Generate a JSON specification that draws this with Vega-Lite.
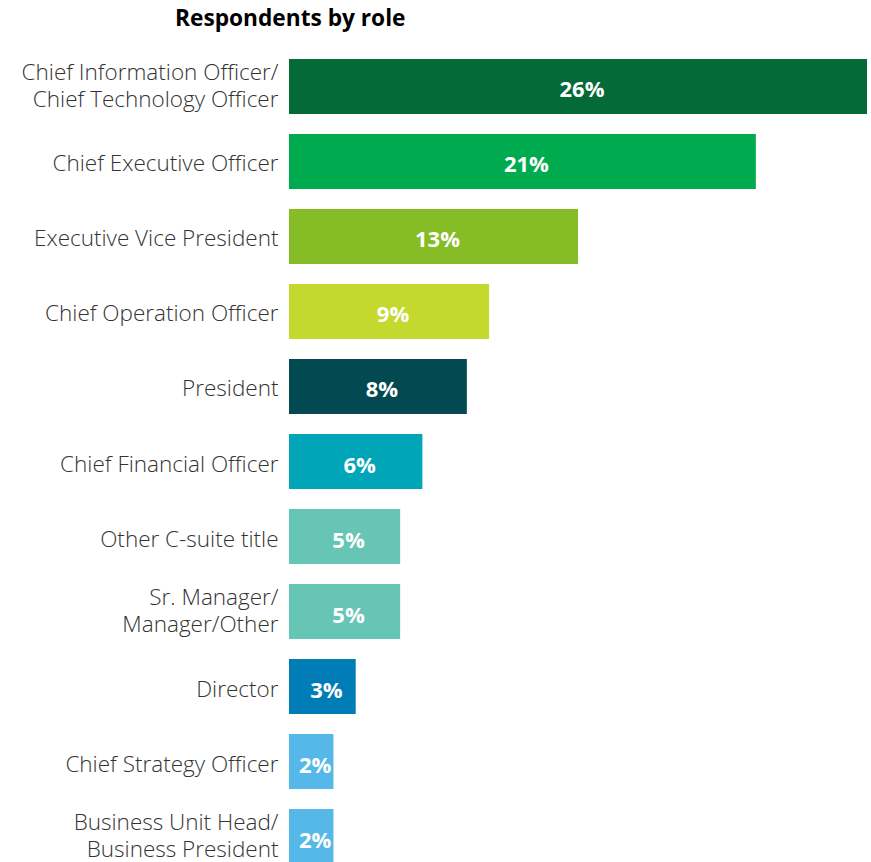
{
  "$schema": "https://vega.github.io/schema/vega-lite/v6.json",
  "autosize": "none",
  "width": 578,
  "height": 825,
  "padding": {"left": 289, "top": 49, "right": 4, "bottom": 0},
  "background": "white",
  "config": {"view": {"stroke": null}, "font": "Open Sans"},
  "title": {
    "text": "Respondents by role",
    "anchor": "start",
    "frame": "group",
    "dx": -114,
    "offset": 18,
    "fontSize": 22.7,
    "fontWeight": "bold",
    "font": "Open Sans",
    "color": "#000000"
  },
  "data": {
    "values": [
      {"role": "Chief Information Officer/|Chief Technology Officer", "value": 26, "color": "#046A38"},
      {"role": "Chief Executive Officer", "value": 21, "color": "#00AB4F"},
      {"role": "Executive Vice President", "value": 13, "color": "#86BC25"},
      {"role": "Chief Operation Officer", "value": 9, "color": "#C4D82E"},
      {"role": "President", "value": 8, "color": "#024952"},
      {"role": "Chief Financial Officer", "value": 6, "color": "#00A6B8"},
      {"role": "Other C-suite title", "value": 5, "color": "#66C5B4"},
      {"role": "Sr. Manager/|Manager/Other", "value": 5, "color": "#66C5B4"},
      {"role": "Director", "value": 3, "color": "#007CB6"},
      {"role": "Chief Strategy Officer", "value": 2, "color": "#55B8E8"},
      {"role": "Business Unit Head/|Business President", "value": 2, "color": "#55B8E8"}
    ]
  },
  "encoding": {
    "y": {
      "field": "role",
      "type": "nominal",
      "sort": null,
      "scale": {"paddingInner": 0.2667, "paddingOuter": 0.1333},
      "axis": {
        "title": null,
        "domain": false,
        "ticks": false,
        "labelPadding": 11,
        "labelFontSize": 22.5,
        "labelFont": "Open Sans",
        "labelFontWeight": 300,
        "labelColor": "#333333",
        "labelLineHeight": 27,
        "labelLimit": 320,
        "labelExpr": "split(datum.label, '|')",
        "labelOffset": {
          "condition": {"test": "indexof(datum.value, '|') >= 0", "value": -13.5},
          "value": 3
        }
      }
    }
  },
  "layer": [
    {
      "mark": {"type": "bar"},
      "encoding": {
        "x": {"field": "value", "type": "quantitative", "scale": {"domain": [0, 26], "nice": false}, "axis": null},
        "color": {"field": "color", "type": "nominal", "scale": null}
      }
    },
    {
      "transform": [
        {"calculate": "datum.value / 2", "as": "mid"},
        {"calculate": "datum.value + '%'", "as": "label"}
      ],
      "mark": {"type": "text", "color": "white", "fontWeight": "bold", "fontSize": 22, "font": "Open Sans", "dx": 4, "dy": 4},
      "encoding": {
        "x": {"field": "mid", "type": "quantitative"},
        "text": {"field": "label", "type": "nominal"}
      }
    }
  ]
}
